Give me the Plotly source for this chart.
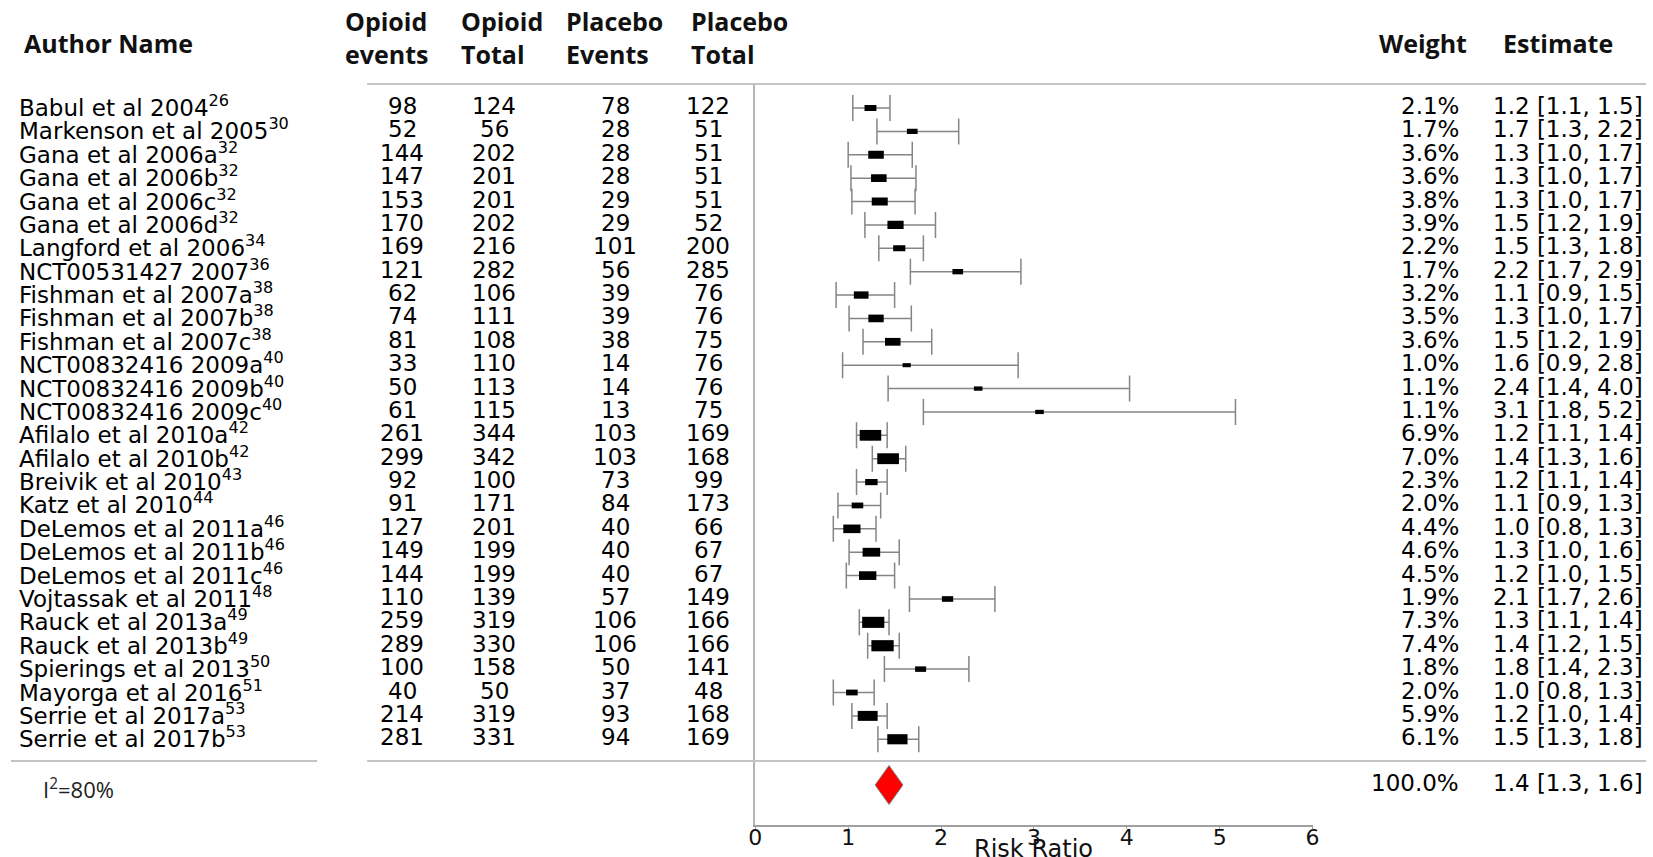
import plotly.graph_objects as go

# ---------------- data ----------------
authors = ["Babul et al 2004", "Markenson et al 2005", "Gana et al 2006a", "Gana et al 2006b",
           "Gana et al 2006c", "Gana et al 2006d", "Langford et al 2006", "NCT00531427 2007",
           "Fishman et al 2007a", "Fishman et al 2007b", "Fishman et al 2007c",
           "NCT00832416 2009a", "NCT00832416 2009b", "NCT00832416 2009c",
           "Afilalo et al 2010a", "Afilalo et al 2010b", "Breivik et al 2010", "Katz et al 2010",
           "DeLemos et al 2011a", "DeLemos et al 2011b", "DeLemos et al 2011c",
           "Vojtassak et al 2011", "Rauck et al 2013a", "Rauck et al 2013b",
           "Spierings et al 2013", "Mayorga et al 2016", "Serrie et al 2017a", "Serrie et al 2017b"]
refs = ["26", "30", "32", "32", "32", "32", "34", "36", "38", "38", "38", "40", "40", "40",
        "42", "42", "43", "44", "46", "46", "46", "48", "49", "49", "50", "51", "53", "53"]
op_events = [98, 52, 144, 147, 153, 170, 169, 121, 62, 74, 81, 33, 50, 61,
             261, 299, 92, 91, 127, 149, 144, 110, 259, 289, 100, 40, 214, 281]
op_total = [124, 56, 202, 201, 201, 202, 216, 282, 106, 111, 108, 110, 113, 115,
            344, 342, 100, 171, 201, 199, 199, 139, 319, 330, 158, 50, 319, 331]
pl_events = [78, 28, 28, 28, 29, 29, 101, 56, 39, 39, 38, 14, 14, 13,
             103, 103, 73, 84, 40, 40, 40, 57, 106, 106, 50, 37, 93, 94]
pl_total = [122, 51, 51, 51, 51, 52, 200, 285, 76, 76, 75, 76, 76, 75,
            169, 168, 99, 173, 66, 67, 67, 149, 166, 166, 141, 48, 168, 169]
weights = [2.1, 1.7, 3.6, 3.6, 3.8, 3.9, 2.2, 1.7, 3.2, 3.5, 3.6, 1.0, 1.1, 1.1,
           6.9, 7.0, 2.3, 2.0, 4.4, 4.6, 4.5, 1.9, 7.3, 7.4, 1.8, 2.0, 5.9, 6.1]
rr = [1.24, 1.69, 1.30, 1.33, 1.34, 1.51, 1.55, 2.18, 1.14, 1.30, 1.48, 1.63, 2.40, 3.06,
      1.24, 1.43, 1.25, 1.10, 1.04, 1.25, 1.21, 2.07, 1.27, 1.37, 1.78, 1.04, 1.21, 1.53]
ci_lo = [1.05, 1.31, 1.00, 1.03, 1.04, 1.18, 1.33, 1.67, 0.87, 1.01, 1.16, 0.94, 1.43, 1.81,
         1.09, 1.26, 1.09, 0.89, 0.84, 1.01, 0.98, 1.66, 1.12, 1.21, 1.39, 0.84, 1.04, 1.32]
ci_hi = [1.45, 2.19, 1.69, 1.73, 1.72, 1.94, 1.81, 2.86, 1.50, 1.68, 1.90, 2.83, 4.03, 5.17,
         1.42, 1.62, 1.42, 1.35, 1.30, 1.55, 1.50, 2.58, 1.44, 1.55, 2.30, 1.28, 1.42, 1.76]
estimates = ["1.2 [1.1, 1.5]", "1.7 [1.3, 2.2]", "1.3 [1.0, 1.7]", "1.3 [1.0, 1.7]",
             "1.3 [1.0, 1.7]", "1.5 [1.2, 1.9]", "1.5 [1.3, 1.8]", "2.2 [1.7, 2.9]",
             "1.1 [0.9, 1.5]", "1.3 [1.0, 1.7]", "1.5 [1.2, 1.9]", "1.6 [0.9, 2.8]",
             "2.4 [1.4, 4.0]", "3.1 [1.8, 5.2]", "1.2 [1.1, 1.4]", "1.4 [1.3, 1.6]",
             "1.2 [1.1, 1.4]", "1.1 [0.9, 1.3]", "1.0 [0.8, 1.3]", "1.3 [1.0, 1.6]",
             "1.2 [1.0, 1.5]", "2.1 [1.7, 2.6]", "1.3 [1.1, 1.4]", "1.4 [1.2, 1.5]",
             "1.8 [1.4, 2.3]", "1.0 [0.8, 1.3]", "1.2 [1.0, 1.4]", "1.5 [1.3, 1.8]"]
summary_est, summary_lo, summary_hi = 1.44, 1.29, 1.59
summary_weight = "100.0%"
summary_text = "1.4 [1.3, 1.6]"
heterogeneity = "I<sup>2</sup>=80%"
x_ticks = [0, 1, 2, 3, 4, 5, 6]

# ---------------- layout helpers (page pixel coordinates) ----------------
W, H = 1653, 857
ROW0, STEP = 108.0, 23.38    # pixel centre of first row, row spacing
CX, SX = 790.0, 1.009        # small horizontal correction of the photographed page


def px(x):
    return (CX + (x - CX) * SX) / W


def py(y):
    return 1 - y / H


def row_of(pix):
    return (pix - ROW0) / STEP


rows = list(range(len(authors)))
sum_row = row_of(785)

fig = go.Figure()

# CI whiskers
fig.add_trace(go.Scatter(
    x=rr, y=rows, mode="markers",
    marker=dict(size=2, color="rgba(0,0,0,0)"),
    error_x=dict(type="data", symmetric=False,
                 array=[h - r for h, r in zip(ci_hi, rr)],
                 arrayminus=[r - l for r, l in zip(rr, ci_lo)],
                 color="#858585", thickness=1.5, width=13),
    hoverinfo="skip", showlegend=False))

# summary diamond
dh = 19.5 / STEP
fig.add_trace(go.Scatter(
    x=[summary_lo, summary_est, summary_hi, summary_est, summary_lo],
    y=[sum_row, sum_row - dh, sum_row, sum_row + dh, sum_row],
    mode="lines", fill="toself", fillcolor="#ff0000",
    line=dict(color="#808080", width=1), hoverinfo="skip", showlegend=False))

shapes = []
# weighted boxes
for r, w, i in zip(rr, weights, rows):
    bw = 8.2 * w ** 0.5
    bh = bw * 0.5
    shapes.append(dict(type="rect", xref="x", yref="y",
                       xsizemode="pixel", xanchor=r, x0=-bw / 2, x1=bw / 2,
                       ysizemode="pixel", yanchor=i, y0=-bh / 2, y1=bh / 2,
                       fillcolor="black", line=dict(width=0)))

# horizontal rules
line_style = dict(color="#c4c4c4", width=2)
shapes.append(dict(type="line", xref="paper", yref="paper",
                   x0=px(367), x1=1, y0=py(84), y1=py(84), line=line_style))
shapes.append(dict(type="line", xref="paper", yref="paper",
                   x0=px(11), x1=px(317), y0=py(761), y1=py(761), line=line_style))
shapes.append(dict(type="line", xref="paper", yref="paper",
                   x0=px(367), x1=1, y0=py(761), y1=py(761), line=line_style))

annotations = []
body_font = dict(family="DejaVu Sans", size=23, color="#000000")
head_font = dict(family="Open Sans", size=25, color="#111111", weight="bold")


def add(text, x, y, anchor="left", font=body_font, yref="y", yshift=0):
    annotations.append(dict(text=text, x=px(x), y=y, xref="paper", yref=yref,
                            xanchor=anchor, yanchor="middle", align=anchor,
                            showarrow=False, font=font, yshift=yshift))


for i in rows:
    add(f"{authors[i]}<sup>{refs[i]}</sup>", 17, i, "left", yshift=2)
    add(str(op_events[i]), 402, i, "center", yshift=2)
    add(str(op_total[i]), 494, i, "center", yshift=2)
    add(str(pl_events[i]), 615, i, "center", yshift=2)
    add(str(pl_total[i]), 708, i, "center", yshift=2)
    add(f"{weights[i]:.1f}%", 1460, i, "right", yshift=2)
    add(estimates[i], 1567, i, "center", yshift=2)

add(summary_weight, 1460, sum_row, "right", yshift=2)
add(summary_text, 1567, sum_row, "center", yshift=2)
add(heterogeneity, 41, py(788), "left",
    font=dict(family="Open Sans", size=22, color="#222222"), yref="paper")

# headers
add("Author Name", 22, py(43), "left", head_font, "paper")
add("Opioid<br>events", 343, py(37), "left", head_font, "paper")
add("Opioid<br>Total", 459, py(37), "left", head_font, "paper")
add("Placebo<br>Events", 564, py(37), "left", head_font, "paper")
add("Placebo<br>Total", 689, py(37), "left", head_font, "paper")
add("Weight", 1376, py(43), "left", head_font, "paper")
add("Estimate", 1500, py(43), "left", head_font, "paper")

# axis title
add("Risk Ratio", 1033, py(849), "center",
    dict(family="DejaVu Sans", size=24, color="#111111"), "paper")

fig.update_layout(
    width=W, height=H, autosize=False,
    margin=dict(l=0, r=0, t=0, b=0),
    paper_bgcolor="white", plot_bgcolor="white",
    showlegend=False,
    shapes=shapes, annotations=annotations,
    xaxis=dict(domain=[px(755), px(1312)], range=[0, 6], tickvals=x_ticks,
               showline=True, linecolor="#a0a0a0", linewidth=2,
               ticks="outside", ticklen=2, tickcolor="#a0a0a0",
               ticklabelstandoff=-10,
               showgrid=False, zeroline=False,
               tickfont=dict(family="DejaVu Sans", size=22, color="#111111")),
    yaxis=dict(domain=[py(825), py(84)], range=[row_of(825), row_of(84)],
               showline=True, linecolor="#b4b4b4", linewidth=2,
               showticklabels=False, showgrid=False, zeroline=False, ticks=""),
)

fig.write_html(
    "out.html",
    config={"displayModeBar": False},
    post_script="document.body.style.margin='0';"
                "document.documentElement.style.overflow='hidden';"
                "document.body.style.overflow='hidden';",
)
